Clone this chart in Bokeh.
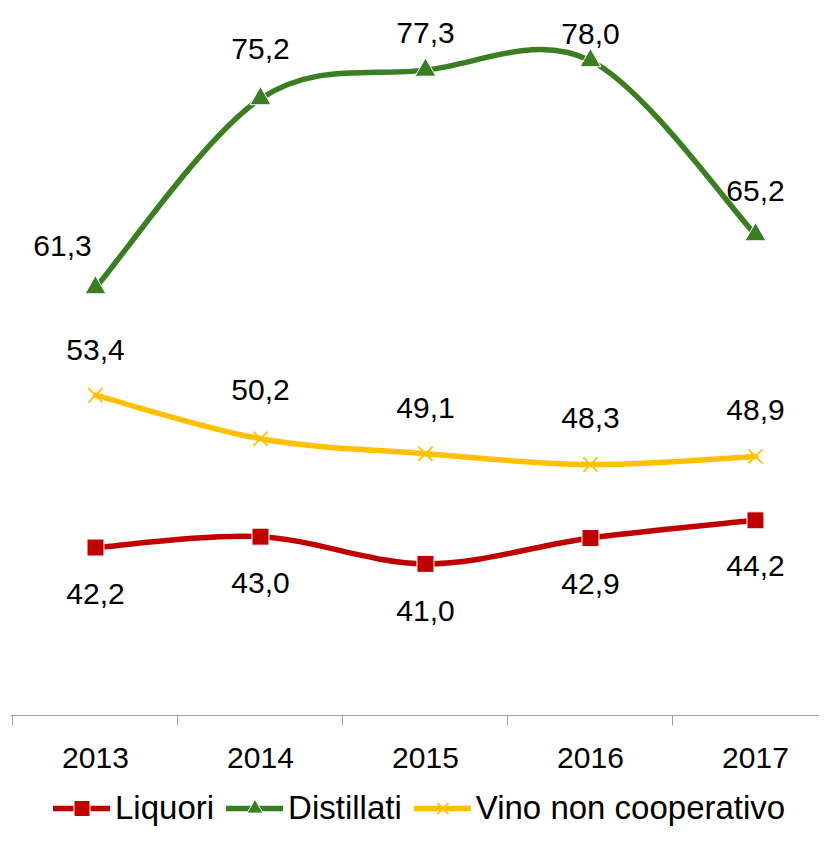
import numpy as np
from bokeh.plotting import figure
from bokeh.layouts import column
from bokeh.models import ColumnDataSource, Range1d, FixedTicker, Legend, LegendItem
from bokeh.embed import file_html
from bokeh.resources import INLINE
from bokeh.core.properties import value

# ---------------- data ----------------
years = ["2013", "2014", "2015", "2016", "2017"]
liquori = [42.2, 43.0, 41.0, 42.9, 44.2]
distillati = [61.3, 75.2, 77.3, 78.0, 65.2]
vino = [53.4, 50.2, 49.1, 48.3, 48.9]
series_names = ["Liquori", "Distillati", "Vino non cooperativo"]

# ---------------- label placement (style, px) ----------------
dist_dx = [-33, 0, 0, 0, 0]
dist_dy = [42, 50, 37, 27, 44]
vino_dy = [45, 49, 46, 47, 46]
liq_dy = [-46, -46, -47, -46, -46]

RED = "#C00000"
GREEN = "#3B7D23"
YELLOW = "#FFC000"
FONT = "Liberation Sans"

xs = list(range(len(years)))


def smooth_segments(x, y, k=1.0 / 6.0):
    """Catmull-Rom style cubic Bezier control points between data points."""
    n = len(x)
    out = dict(x0=[], y0=[], x1=[], y1=[], cx0=[], cy0=[], cx1=[], cy1=[])
    for i in range(n - 1):
        a = i - 1 if i > 0 else i
        d = i + 2 if i + 2 < n else i + 1
        out["x0"].append(x[i]); out["y0"].append(y[i])
        out["x1"].append(x[i + 1]); out["y1"].append(y[i + 1])
        out["cx0"].append(x[i] + (x[i + 1] - x[a]) * k)
        out["cy0"].append(y[i] + (y[i + 1] - y[a]) * k)
        out["cx1"].append(x[i + 1] - (x[d] - x[i]) * k)
        out["cy1"].append(y[i + 1] - (y[d] - y[i]) * k)
    return ColumnDataSource(out)


p = figure(width=819, height=788, output_backend="svg", toolbar_location=None,
           x_range=Range1d(-0.515, 4.388), y_range=Range1d(29.85, 82.42),
           y_axis_location=None, min_border_left=10, min_border_right=0,
           min_border_top=0, min_border_bottom=73)
p.outline_line_color = None
p.grid.visible = False

ax = p.xaxis[0]
ax.ticker = FixedTicker(ticks=xs, minor_ticks=[i - 0.5 for i in range(len(years) + 1)])
ax.major_label_overrides = {i: years[i] for i in xs}
ax.major_tick_out = 0
ax.major_tick_in = 0
ax.minor_tick_out = 10
ax.minor_tick_in = 0
ax.minor_tick_line_color = "#A0A0A0"
ax.axis_line_color = "#A0A0A0"
ax.axis_line_width = 1.2
ax.major_label_text_font = FONT
ax.major_label_text_font_size = "30px"
ax.major_label_text_color = "black"
ax.major_label_standoff = 22

# legend strip (separate small figure below the chart)
q = figure(width=819, height=40, output_backend="svg", toolbar_location=None,
           x_range=Range1d(0, 1), y_range=Range1d(0, 1),
           x_axis_location=None, y_axis_location=None, min_border=0)
q.outline_line_color = None
q.grid.visible = False


def series(vals, color, marker, msize, dx, dy):
    seg = smooth_segments(xs, vals)
    p.bezier(x0="x0", y0="y0", x1="x1", y1="y1", cx0="cx0", cy0="cy0",
             cx1="cx1", cy1="cy1", source=seg, line_color=color, line_width=5.5,
             line_cap="round")
    if marker == "x":
        mk = dict(marker="x", line_color=color, line_width=1.8)
    else:
        mk = dict(marker=marker, fill_color=color, line_color="white", line_width=1)
    p.scatter(xs, vals, size=msize, **mk)
    src = ColumnDataSource(dict(
        x=xs, y=vals,
        t=[f"{v:.1f}".replace(".", ",") for v in vals],
        dx=dx, dy=[-d for d in dy]))
    p.text(x="x", y="y", text="t", x_offset="dx", y_offset="dy", source=src,
           text_align="center", text_baseline="middle",
           text_font=value(FONT), text_font_size="30px", text_color="black")
    # legend proxies: same series, drawn in the legend strip (outside its view range)
    ln = q.line(xs, vals, line_color=color, line_width=5.5, line_cap="round")
    sc = q.scatter(xs, vals, size=msize, **mk)
    return [ln, sc]


r1 = series(liquori, RED, "square", 17, [0] * 5, liq_dy)
r2 = series(distillati, GREEN, "triangle", 21, dist_dx, dist_dy)
r3 = series(vino, YELLOW, "x", 20, [0] * 5, vino_dy)

legend = Legend(items=[LegendItem(label=n, renderers=r)
                       for n, r in zip(series_names, [r1, r2, r3])],
                location=(43, 0), orientation="horizontal",
                label_text_font=FONT, label_text_font_size="33px",
                label_text_color="black",
                glyph_width=57, glyph_height=40, label_standoff=5, spacing=12,
                padding=0, margin=0, background_fill_alpha=0,
                border_line_color=None)
q.add_layout(legend)

layout = column(p, q, spacing=0)
open("out.html", "w").write(file_html(layout, INLINE))
